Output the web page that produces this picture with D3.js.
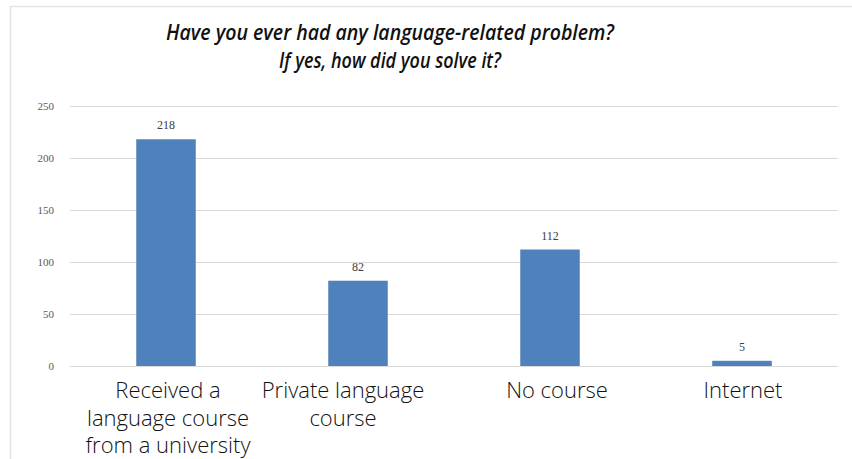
<!DOCTYPE html>
<html>
<head>
<meta charset="utf-8">
<script src="https://cdn.jsdelivr.net/npm/d3@7"></script>
<style>
  html, body { margin: 0; padding: 0; background: #fff; }
  svg { display: block; }
</style>
</head>
<body>
<svg id="chart" width="852" height="459"></svg>
<script>
// Survey answers: how respondents solved language-related problems
const categories = [
  ["Received a", "language course", "from a university"],
  ["Private language", "course"],
  ["No course"],
  ["Internet"]
];
const counts = [218, 82, 112, 5];
const yTicks = [0, 50, 100, 150, 200, 250];
const titleLines = [
  "Have you ever had any language-related problem?",
  "If yes, how did you solve it?"
];

const svg = d3.select("#chart");
const W = 852, H = 459;

// Frame lines (top and left edge of the chart area)
svg.append("line").attr("x1", 10).attr("x2", W).attr("y1", 6.5).attr("y2", 6.5)
  .attr("stroke", "#e4e4e4").attr("stroke-width", 1.5);
svg.append("line").attr("x1", 10.5).attr("x2", 10.5).attr("y1", 6).attr("y2", H)
  .attr("stroke", "#e4e4e4").attr("stroke-width", 1.5);

const plot = { left: 70, right: 838, top: 106, bottom: 366 };

const x = d3.scaleBand()
  .domain(d3.range(counts.length))
  .range([plot.left, plot.right])
  .paddingInner(0.69)
  .paddingOuter(0.345);

const y = d3.scaleLinear().domain([0, 250]).range([plot.bottom, plot.top]);

// Horizontal gridlines and y tick labels
const yAxis = d3.axisLeft(y)
  .tickValues(yTicks)
  .tickSize(-(plot.right - plot.left))
  .tickPadding(16);
const gy = svg.append("g").attr("transform", `translate(${plot.left},0)`).call(yAxis);
gy.select(".domain").remove();
gy.selectAll(".tick line").attr("stroke", "#d9d9d9").attr("stroke-width", 1);
gy.selectAll(".tick text")
  .attr("fill", "#595959")
  .style("font-family", "'Liberation Serif', 'DejaVu Serif', serif")
  .style("font-size", "11px");

// Bars
svg.append("g").selectAll("rect")
  .data(counts)
  .join("rect")
  .attr("x", (d, i) => x(i))
  .attr("width", x.bandwidth())
  .attr("y", d => y(d))
  .attr("height", d => y(0) - y(d))
  .attr("fill", "#4f81bd");

// Value labels above bars
svg.append("g").selectAll("text")
  .data(counts)
  .join("text")
  .attr("x", (d, i) => x(i) + x.bandwidth() / 2)
  .attr("y", d => y(d) - 10)
  .attr("text-anchor", "middle")
  .attr("fill", "#404040")
  .style("font-family", "'Liberation Serif', 'DejaVu Serif', serif")
  .style("font-size", "12px")
  .text(d => d);

// Category labels (multi-line), each nudged slightly off its bar centre
const labelNudge = [2, -15, 7, 1];
const xl = svg.append("g").selectAll("text")
  .data(categories)
  .join("text")
  .attr("text-anchor", "middle")
  .attr("fill", "#111")
  .style("font-family", "'Open Sans', sans-serif")
  .style("font-size", "22px")
  .style("font-weight", "300");
xl.each(function (lines, i) {
  const t = d3.select(this);
  lines.forEach((ln, j) => {
    t.append("tspan")
      .attr("x", x(i) + x.bandwidth() / 2 + labelNudge[i])
      .attr("y", 398 + j * 27.5)
      .text(ln);
  });
});

// Title
const titleWidths = [448, 222];
svg.append("g").selectAll("text")
  .data(titleLines)
  .join("text")
  .attr("x", 390)
  .attr("y", (d, i) => 40 + i * 28)
  .attr("text-anchor", "middle")
  .attr("fill", "#111")
  .style("font-family", "'Open Sans', sans-serif")
  .style("font-size", "22px")
  .style("font-weight", "600")
  .style("font-style", "italic")
  .attr("textLength", (d, i) => titleWidths[i])
  .attr("lengthAdjust", "spacingAndGlyphs")
  .text(d => d);
</script>
</body>
</html>
